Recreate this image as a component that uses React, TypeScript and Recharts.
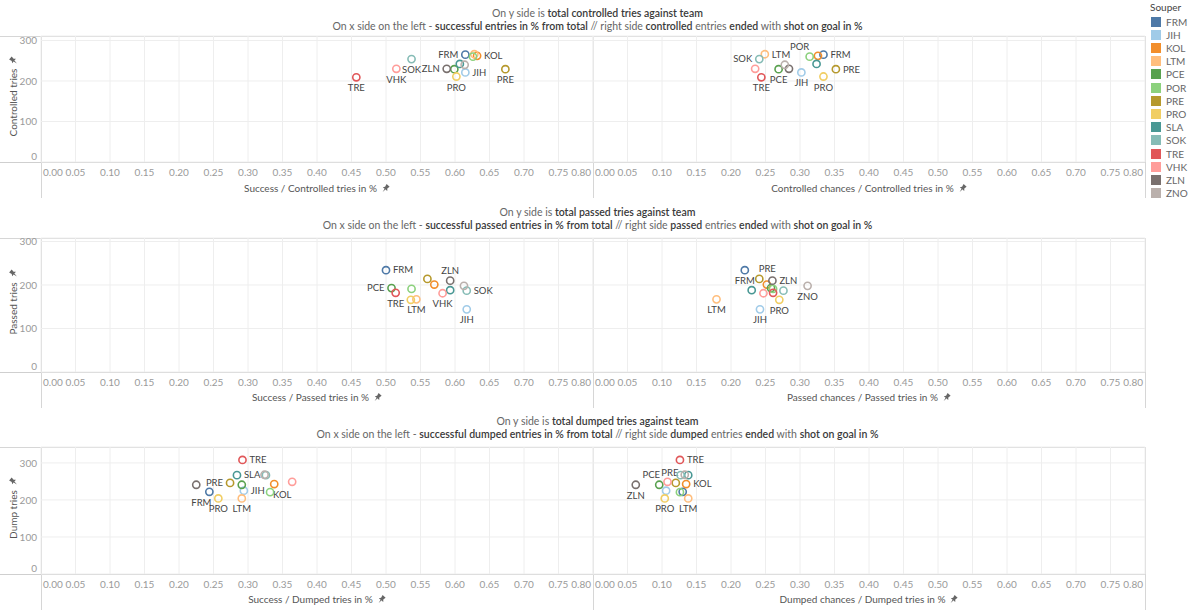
import React from 'react';
import { ScatterChart, Scatter, XAxis, YAxis, CartesianGrid } from 'recharts';

const TEAMS = ['FRM', 'JIH', 'KOL', 'LTM', 'PCE', 'POR', 'PRE', 'PRO', 'SLA', 'SOK', 'TRE', 'VHK', 'ZLN', 'ZNO'];
const COLORS = ['#4e79a7', '#a0cbe8', '#f28e2b', '#ffbe7d', '#59a14f', '#8cd17d', '#b6992d', '#f1ce63', '#499894', '#86bcb6', '#e15759', '#ff9d9a', '#79706e', '#bab0ac'];

const X_TICKS = [0, 0.05, 0.1, 0.15, 0.2, 0.25, 0.3, 0.35, 0.4, 0.45, 0.5, 0.55, 0.6, 0.65, 0.7, 0.75, 0.8];
const Y_TICKS = [0, 100, 200, 300];

// values in TEAMS order
const controlledTries = [265, 221, 262, 266, 229, 260, 229, 211, 242, 254, 209, 230, 230, 240];
const controlledSuccess = [0.615, 0.615, 0.632, 0.628, 0.599, 0.626, 0.673, 0.602, 0.607, 0.537, 0.457, 0.515, 0.588, 0.614];
const controlledChances = [0.334, 0.302, 0.326, 0.249, 0.269, 0.314, 0.352, 0.334, 0.324, 0.241, 0.244, 0.235, 0.284, 0.278];

const passedTries = [234, 144, 201, 167, 193, 191, 214, 166, 188, 187, 182, 181, 210, 198];
const passedSuccess = [0.5, 0.617, 0.57, 0.544, 0.508, 0.537, 0.56, 0.536, 0.593, 0.617, 0.514, 0.582, 0.593, 0.613];
const passedChances = [0.22, 0.242, 0.252, 0.179, 0.258, 0.261, 0.241, 0.27, 0.23, 0.276, 0.261, 0.247, 0.26, 0.311];

const dumpTries = [222, 225, 243, 204, 241, 221, 246, 204, 267, 267, 308, 249, 241, 268];
const dumpSuccess = [0.244, 0.294, 0.338, 0.291, 0.291, 0.332, 0.274, 0.257, 0.284, 0.326, 0.292, 0.364, 0.225, 0.324];
const dumpChances = [0.13, 0.106, 0.135, 0.138, 0.096, 0.126, 0.12, 0.104, 0.138, 0.127, 0.126, 0.108, 0.062, 0.133];

// which points get a mark label, and where (r / l / b / a, plus x nudge)
type LabelPos = [string, number?];
const labelsCtrlL: Record<string, LabelPos> = { TRE: ['b'], VHK: ['b'], SOK: ['b'], ZLN: ['l'], FRM: ['l'], KOL: ['r'], JIH: ['r'], PRO: ['b'], PRE: ['b'] };
const labelsCtrlR: Record<string, LabelPos> = { SOK: ['l'], LTM: ['r'], POR: ['a', -10], FRM: ['r'], PRE: ['r'], JIH: ['b'], PRO: ['b'], PCE: ['b'], TRE: ['b'] };
const labelsPassL: Record<string, LabelPos> = { FRM: ['r'], PCE: ['l'], TRE: ['b'], LTM: ['b'], VHK: ['b'], ZLN: ['a'], SOK: ['r'], JIH: ['b'] };
const labelsPassR: Record<string, LabelPos> = { LTM: ['b'], FRM: ['b'], PRE: ['a', 8], ZLN: ['r'], ZNO: ['b'], JIH: ['b'], PRO: ['b'] };
const labelsDumpL: Record<string, LabelPos> = { TRE: ['r'], SLA: ['r'], PRE: ['l'], FRM: ['b', -8], PRO: ['b'], LTM: ['b'], JIH: ['r'], KOL: ['b', 8] };
const labelsDumpR: Record<string, LabelPos> = { TRE: ['r'], ZLN: ['b'], PCE: ['a', -8], PRE: ['a', -6], KOL: ['r'], PRO: ['b'], LTM: ['b'] };

const FONT = 'Lato, "Open Sans", sans-serif';
const LEFT_X = 41;
const MID_X = 593;
const RIGHT_X = 1145;
const AXIS_H = 30;

function XTick(props: any) {
  const { x, y, payload, index } = props;
  const last = index === X_TICKS.length - 1;
  const anchor = index === 0 ? 'start' : last ? 'end' : 'middle';
  const tx = index === 0 ? x + 2 : last ? x - 2 : x;
  return (
    <text x={tx} y={y + 14} textAnchor={anchor} fontSize={10} fill="#9a9a9a" fontFamily={FONT}>
      {payload.value.toFixed(2)}
    </text>
  );
}

function YTick(props: any) {
  const { x, y, payload } = props;
  return (
    <text x={x - 4} y={y + 4 - (payload.value === 0 ? 6 : 0)} textAnchor="end" fontSize={10} fill="#9a9a9a" fontFamily={FONT}>
      {payload.value}
    </text>
  );
}

function makeShape(labels: Record<string, LabelPos>) {
  return (props: any) => {
    const { cx, cy, payload } = props;
    const lab = labels[payload.team];
    let text = null;
    if (lab) {
      const [pos, dx = 0] = lab;
      let tx = cx + dx, ty = cy + 3.3, anchor = 'middle';
      if (pos === 'r') { tx = cx + 7 + dx; anchor = 'start'; }
      if (pos === 'l') { tx = cx - 7 + dx; anchor = 'end'; }
      if (pos === 'b') { ty = cy + 14; }
      if (pos === 'a') { ty = cy - 7; }
      text = (
        <text x={tx} y={ty} textAnchor={anchor} fontSize={9.5} fill="#444" fontFamily={FONT}>
          {payload.team}
        </text>
      );
    }
    return (
      <g>
        <circle cx={cx} cy={cy} r={3.6} fill="none" stroke={payload.color} strokeWidth={1.6} />
        {text}
      </g>
    );
  };
}

function Pin({ color = '#666' }: { color?: string }) {
  return (
    <svg width={9} height={9} viewBox="-5 -5 10 10" style={{ display: 'inline-block' }}>
      <g transform="rotate(40)">
        <path d="M-2.2,-4.5 L2.2,-4.5 L1.6,-1.2 L3.2,0.8 L-3.2,0.8 L-1.6,-1.2 Z" fill={color} />
        <path d="M-0.6,0.8 L0,5 L0.6,0.8 Z" fill={color} />
      </g>
    </svg>
  );
}

function Panel({ xs, ys, yMax, top, bottom, left, labels }: any) {
  const data = TEAMS.map((team, i) => ({ team, x: xs[i], y: ys[i], color: COLORS[i] }));
  const isLeft = left;
  const chartLeft = isLeft ? 0 : MID_X;
  const width = isLeft ? MID_X : RIGHT_X - MID_X;
  return (
    <div className="panel" style={{ position: 'absolute', left: chartLeft, top }}>
      <ScatterChart width={width} height={bottom - top + AXIS_H} margin={{ top: 0, right: 0, bottom: 0, left: 0 }}>
        <CartesianGrid stroke="#eeeeee" />
        <XAxis
          type="number"
          dataKey="x"
          domain={[0, 0.8]}
          ticks={X_TICKS}
          allowDataOverflow
          tick={<XTick />}
          tickLine={false}
          axisLine={false}
          tickSize={0}
          tickMargin={0}
          height={AXIS_H}
          interval={0}
        />
        <YAxis
          type="number"
          dataKey="y"
          domain={[0, yMax]}
          ticks={Y_TICKS}
          allowDataOverflow
          hide={!isLeft}
          width={isLeft ? LEFT_X : 0}
          tick={<YTick />}
          tickLine={false}
          axisLine={false}
          tickSize={0}
          tickMargin={0}
          interval={0}
        />
        <Scatter data={data} shape={makeShape(labels)} isAnimationActive={false} />
      </ScatterChart>
    </div>
  );
}

const ROWS = [
  {
    top: 36, bottom: 162, yMax: 311, titleY: 14, axisTitleY: 189, yTitle: 'Controlled tries',
    word: 'controlled', kind: 'entries', xL: controlledSuccess, xR: controlledChances, ys: controlledTries,
    lblL: labelsCtrlL, lblR: labelsCtrlR,
    leftTitle: 'Success / Controlled tries in %', rightTitle: 'Controlled chances  / Controlled tries in %',
  },
  {
    top: 238, bottom: 372, yMax: 308, titleY: 213, axisTitleY: 398, yTitle: 'Passed tries',
    word: 'passed', kind: 'passed entries', xL: passedSuccess, xR: passedChances, ys: passedTries,
    lblL: labelsPassL, lblR: labelsPassR,
    leftTitle: 'Success / Passed tries in %', rightTitle: 'Passed chances / Passed tries in %',
  },
  {
    top: 447, bottom: 574, yMax: 343, titleY: 422, axisTitleY: 600, yTitle: 'Dump tries',
    word: 'dumped', kind: 'dumped entries', xL: dumpSuccess, xR: dumpChances, ys: dumpTries,
    lblL: labelsDumpL, lblR: labelsDumpR,
    leftTitle: 'Success / Dumped tries in %', rightTitle: 'Dumped chances / Dumped tries in %',
  },
];

const B = ({ children }: any) => <span style={{ color: '#3a3a3a', fontWeight: 600 }}>{children}</span>;

export default function App() {
  return (
    <div style={{ position: 'absolute', left: 0, top: 0, width: 1200, height: 612, background: '#fff', fontFamily: FONT, overflow: 'hidden' }}>
      <style>{'.panel svg { overflow: visible; }'}</style>
      <svg width={1200} height={612} style={{ position: 'absolute', left: 0, top: 0 }}>
        {ROWS.map((r, i) => (
          <g key={i} stroke="#d6d6d6" strokeWidth={1}>
            <line x1={0} x2={RIGHT_X} y1={r.top + 0.5} y2={r.top + 0.5} />
            <line x1={0} x2={RIGHT_X} y1={r.bottom + 0.5} y2={r.bottom + 0.5} stroke="#cfcfcf" />
            <line x1={LEFT_X + 0.5} x2={LEFT_X + 0.5} y1={r.top} y2={r.bottom + 36} />
            <line x1={MID_X + 0.5} x2={MID_X + 0.5} y1={r.top} y2={r.bottom + 36} />
            <line x1={RIGHT_X + 0.5} x2={RIGHT_X + 0.5} y1={r.top} y2={r.bottom + 36} />
          </g>
        ))}
      </svg>

      {ROWS.map((r, i) => (
        <React.Fragment key={i}>
          <div style={{ position: 'absolute', left: 0, width: 1195, top: r.titleY - 7, textAlign: 'center', fontSize: 10.5, color: '#666', lineHeight: '13px' }}>
            <div>On y side is <B>total {r.word} tries against team</B></div>
            <div>
              On x side on the left - <B>successful {r.kind} in % from total</B> // right side <B>{r.word}</B> entries <B>ended</B> with <B>shot on goal in %</B>
            </div>
          </div>
          <Panel xs={r.xL} ys={r.ys} yMax={r.yMax} top={r.top} bottom={r.bottom} left labels={r.lblL} />
          <Panel xs={r.xR} ys={r.ys} yMax={r.yMax} top={r.top} bottom={r.bottom} left={false} labels={r.lblR} />
          <div style={{ position: 'absolute', left: LEFT_X, width: MID_X - LEFT_X, top: r.axisTitleY - 7, display: 'flex', justifyContent: 'center', alignItems: 'center', gap: 4, fontSize: 10, color: '#555' }}>
            <span>{r.leftTitle}</span><Pin />
          </div>
          <div style={{ position: 'absolute', left: MID_X, width: RIGHT_X - MID_X, top: r.axisTitleY - 7, display: 'flex', justifyContent: 'center', alignItems: 'center', gap: 4, fontSize: 10, color: '#555' }}>
            <span>{r.rightTitle}</span><Pin />
          </div>
          <div style={{ position: 'absolute', left: 13 - 60, width: 120, top: (r.top + r.bottom) / 2 - 10, height: 14, transform: 'rotate(-90deg)', display: 'flex', justifyContent: 'center', alignItems: 'center', gap: 4, fontSize: 10, color: '#555' }}>
            <span>{r.yTitle}</span><Pin />
          </div>
        </React.Fragment>
      ))}

      <div style={{ position: 'absolute', left: 1150, top: 1, fontSize: 10, color: '#444' }}>Souper</div>
      {TEAMS.map((t, i) => (
        <div key={t} style={{ position: 'absolute', left: 1151, top: 16 + i * 13.2, display: 'flex', alignItems: 'center', height: 11 }}>
          <div style={{ width: 10, height: 10, background: COLORS[i] }} />
          <span style={{ marginLeft: 5, fontSize: 10, color: '#666' }}>{t}</span>
        </div>
      ))}
    </div>
  );
}
